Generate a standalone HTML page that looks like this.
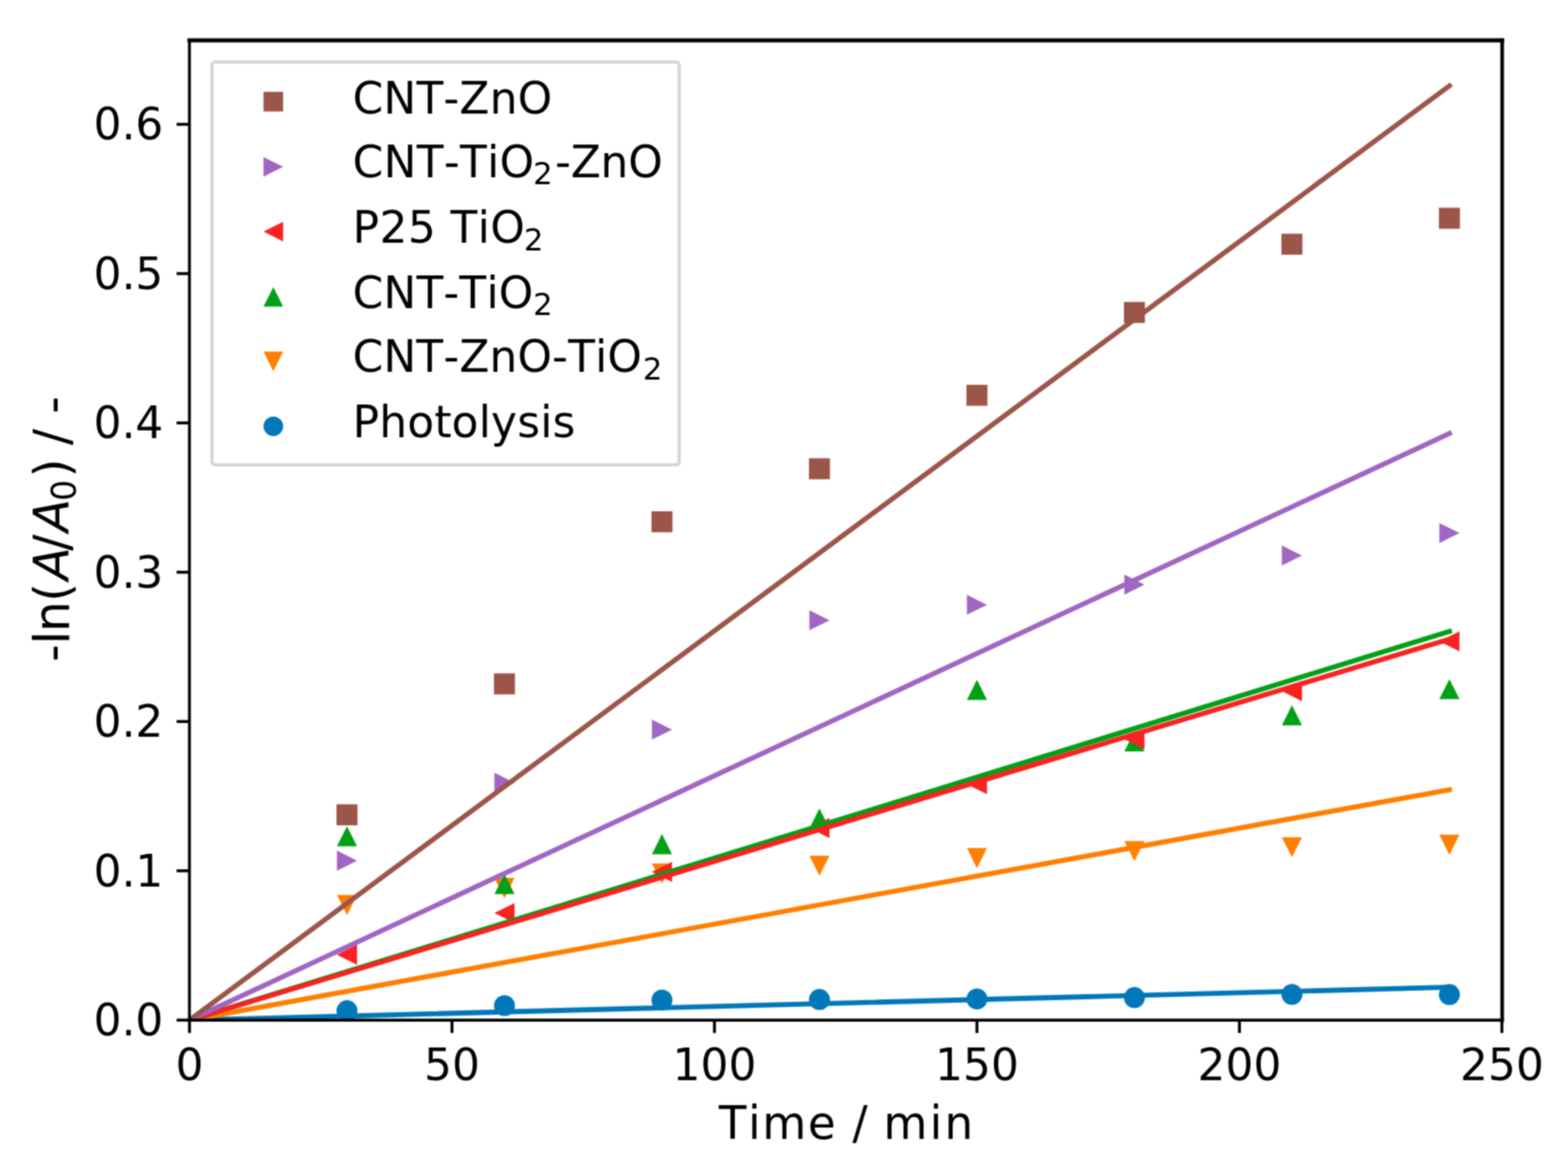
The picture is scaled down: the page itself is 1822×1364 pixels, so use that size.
<!DOCTYPE html>
<html><head><meta charset="utf-8"><title>Chart</title>
<style>html,body{margin:0;padding:0;background:#fff;width:1822px;height:1364px;overflow:hidden}</style>
</head><body>
<svg width="1822" height="1364" viewBox="0 0 1822 1364" style="display:block">
<rect width="1822" height="1364" fill="#fff"/>
<g filter="url(#soft)">
<rect width="1822" height="1364" fill="#fff"/>
<defs><filter id="soft" filterUnits="userSpaceOnUse" x="0" y="0" width="1822" height="1364" color-interpolation-filters="sRGB"><feConvolveMatrix order="3" kernelMatrix="1 2 1 2 4 2 1 2 1" edgeMode="duplicate"/></filter><clipPath id="ax"><rect x="220.2" y="47.5" width="1525.20" height="1137.70"/></clipPath></defs>
<g clip-path="url(#ax)">
<circle cx="403.20" cy="1174.27" r="12.20" fill="#0277b9"/>
<circle cx="586.20" cy="1168.37" r="12.20" fill="#0277b9"/>
<circle cx="769.20" cy="1161.96" r="12.20" fill="#0277b9"/>
<circle cx="952.20" cy="1161.26" r="12.20" fill="#0277b9"/>
<circle cx="1135.20" cy="1160.74" r="12.20" fill="#0277b9"/>
<circle cx="1318.20" cy="1159.01" r="12.20" fill="#0277b9"/>
<circle cx="1501.20" cy="1155.36" r="12.20" fill="#0277b9"/>
<circle cx="1684.20" cy="1155.54" r="12.20" fill="#0277b9"/>
<polygon points="403.20,1063.16 391.50,1039.76 414.90,1039.76" fill="#ff7f00"/>
<polygon points="586.20,1043.39 574.50,1019.99 597.90,1019.99" fill="#ff7f00"/>
<polygon points="769.20,1026.74 757.50,1003.34 780.90,1003.34" fill="#ff7f00"/>
<polygon points="952.20,1017.54 940.50,994.14 963.90,994.14" fill="#ff7f00"/>
<polygon points="1135.20,1008.70 1123.50,985.30 1146.90,985.30" fill="#ff7f00"/>
<polygon points="1318.20,1000.54 1306.50,977.14 1329.90,977.14" fill="#ff7f00"/>
<polygon points="1501.20,996.03 1489.50,972.63 1512.90,972.63" fill="#ff7f00"/>
<polygon points="1684.20,993.26 1672.50,969.86 1695.90,969.86" fill="#ff7f00"/>
<polygon points="403.20,959.97 391.50,983.37 414.90,983.37" fill="#02a016"/>
<polygon points="586.20,1015.30 574.50,1038.70 597.90,1038.70" fill="#02a016"/>
<polygon points="769.20,968.99 757.50,992.39 780.90,992.39" fill="#02a016"/>
<polygon points="952.20,939.16 940.50,962.56 963.90,962.56" fill="#02a016"/>
<polygon points="1135.20,789.81 1123.50,813.21 1146.90,813.21" fill="#02a016"/>
<polygon points="1318.20,849.65 1306.50,873.05 1329.90,873.05" fill="#02a016"/>
<polygon points="1501.20,819.29 1489.50,842.69 1512.90,842.69" fill="#02a016"/>
<polygon points="1684.20,788.94 1672.50,812.34 1695.90,812.34" fill="#02a016"/>
<polygon points="391.50,1109.22 414.90,1097.52 414.90,1120.92" fill="#f82222"/>
<polygon points="574.50,1060.83 597.90,1049.13 597.90,1072.53" fill="#f82222"/>
<polygon points="757.50,1012.95 780.90,1001.25 780.90,1024.65" fill="#f82222"/>
<polygon points="940.50,961.96 963.90,950.26 963.90,973.66" fill="#f82222"/>
<polygon points="1123.50,911.13 1146.90,899.43 1146.90,922.83" fill="#f82222"/>
<polygon points="1306.50,858.75 1329.90,847.05 1329.90,870.45" fill="#f82222"/>
<polygon points="1489.50,803.07 1512.90,791.37 1512.90,814.77" fill="#f82222"/>
<polygon points="1672.50,745.13 1695.90,733.43 1695.90,756.83" fill="#f82222"/>
<polygon points="414.90,999.94 391.50,988.24 391.50,1011.64" fill="#a066c2"/>
<polygon points="597.90,909.57 574.50,897.87 574.50,921.27" fill="#a066c2"/>
<polygon points="780.90,847.65 757.50,835.95 757.50,859.35" fill="#a066c2"/>
<polygon points="963.90,720.67 940.50,708.97 940.50,732.37" fill="#a066c2"/>
<polygon points="1146.90,702.63 1123.50,690.93 1123.50,714.33" fill="#a066c2"/>
<polygon points="1329.90,679.22 1306.50,667.52 1306.50,690.92" fill="#a066c2"/>
<polygon points="1512.90,645.39 1489.50,633.69 1489.50,657.09" fill="#a066c2"/>
<polygon points="1695.90,619.37 1672.50,607.67 1672.50,631.07" fill="#a066c2"/>
<rect x="391.00" y="934.49" width="24.40" height="24.40" fill="#9c5549"/>
<rect x="574.00" y="782.37" width="24.40" height="24.40" fill="#9c5549"/>
<rect x="757.00" y="593.99" width="24.40" height="24.40" fill="#9c5549"/>
<rect x="940.00" y="532.41" width="24.40" height="24.40" fill="#9c5549"/>
<rect x="1123.00" y="447.07" width="24.40" height="24.40" fill="#9c5549"/>
<rect x="1306.00" y="350.80" width="24.40" height="24.40" fill="#9c5549"/>
<rect x="1489.00" y="271.53" width="24.40" height="24.40" fill="#9c5549"/>
<rect x="1672.00" y="241.35" width="24.40" height="24.40" fill="#9c5549"/>
<line x1="220.20" y1="1185.20" x2="1684.20" y2="1147.04" stroke="#0277b9" stroke-width="5.8" stroke-linecap="square"/>
<line x1="220.20" y1="1185.20" x2="1684.20" y2="917.55" stroke="#ff7f00" stroke-width="5.8" stroke-linecap="square"/>
<line x1="220.20" y1="1185.20" x2="1684.20" y2="733.51" stroke="#02a016" stroke-width="5.8" stroke-linecap="square"/>
<line x1="220.20" y1="1185.20" x2="1684.20" y2="742.53" stroke="#f82222" stroke-width="5.8" stroke-linecap="square"/>
<line x1="220.20" y1="1185.20" x2="1684.20" y2="503.68" stroke="#a066c2" stroke-width="5.8" stroke-linecap="square"/>
<line x1="220.20" y1="1185.20" x2="1684.20" y2="99.69" stroke="#9c5549" stroke-width="5.8" stroke-linecap="square"/>
</g>
<g stroke="#000" stroke-linecap="square">
<line x1="220.1" y1="46.9" x2="1745.5" y2="46.9" stroke-width="4.6"/>
<line x1="220.1" y1="1185.3" x2="1745.5" y2="1185.3" stroke-width="3.5"/>
<line x1="220.1" y1="46.9" x2="220.1" y2="1185.3" stroke-width="3.3"/>
<line x1="1745.5" y1="46.9" x2="1745.5" y2="1185.3" stroke-width="4.2"/>
</g>
<line x1="220.20" y1="1185.20" x2="220.20" y2="1200.20" stroke="#000" stroke-width="3.4"/>
<line x1="525.20" y1="1185.20" x2="525.20" y2="1200.20" stroke="#000" stroke-width="3.4"/>
<line x1="830.20" y1="1185.20" x2="830.20" y2="1200.20" stroke="#000" stroke-width="3.4"/>
<line x1="1135.20" y1="1185.20" x2="1135.20" y2="1200.20" stroke="#000" stroke-width="3.4"/>
<line x1="1440.20" y1="1185.20" x2="1440.20" y2="1200.20" stroke="#000" stroke-width="3.4"/>
<line x1="1745.20" y1="1185.20" x2="1745.20" y2="1200.20" stroke="#000" stroke-width="3.4"/>
<line x1="205.20" y1="1185.20" x2="220.20" y2="1185.20" stroke="#000" stroke-width="3.4"/>
<line x1="205.20" y1="1011.74" x2="220.20" y2="1011.74" stroke="#000" stroke-width="3.4"/>
<line x1="205.20" y1="838.28" x2="220.20" y2="838.28" stroke="#000" stroke-width="3.4"/>
<line x1="205.20" y1="664.82" x2="220.20" y2="664.82" stroke="#000" stroke-width="3.4"/>
<line x1="205.20" y1="491.36" x2="220.20" y2="491.36" stroke="#000" stroke-width="3.4"/>
<line x1="205.20" y1="317.90" x2="220.20" y2="317.90" stroke="#000" stroke-width="3.4"/>
<line x1="205.20" y1="144.44" x2="220.20" y2="144.44" stroke="#000" stroke-width="3.4"/>
<g font-family="'DejaVu Sans', 'Liberation Sans', sans-serif" fill="#000" style="font-kerning:none">
<text x="220.20" y="1255.0" font-size="51" text-anchor="middle">0</text>
<text x="525.20" y="1255.0" font-size="51" text-anchor="middle">50</text>
<text x="830.20" y="1255.0" font-size="51" text-anchor="middle">100</text>
<text x="1135.20" y="1255.0" font-size="51" text-anchor="middle">150</text>
<text x="1440.20" y="1255.0" font-size="51" text-anchor="middle">200</text>
<text x="1745.20" y="1255.0" font-size="51" text-anchor="middle">250</text>
<text x="189.8" y="1203.20" font-size="51" text-anchor="end">0.0</text>
<text x="189.8" y="1029.74" font-size="51" text-anchor="end">0.1</text>
<text x="189.8" y="856.28" font-size="51" text-anchor="end">0.2</text>
<text x="189.8" y="682.82" font-size="51" text-anchor="end">0.3</text>
<text x="189.8" y="509.36" font-size="51" text-anchor="end">0.4</text>
<text x="189.8" y="335.90" font-size="51" text-anchor="end">0.5</text>
<text x="189.8" y="162.44" font-size="51" text-anchor="end">0.6</text>
<text x="835.15 869.17 885.71 938.79" y="1323.40" font-size="52.5">Time</text>
<text x="990.60" y="1323.40" font-size="52.5">/</text>
<text x="1026.53 1080.24 1097.39" y="1323.40" font-size="52.5">min</text>
<g transform="translate(79.7,765.8) rotate(-90)">
<text x="-3.24" y="0.00" font-size="56.5">-</text>
<text x="16.94" y="0.00" font-size="56.5">l</text>
<text x="31.53" y="0.00" font-size="56.5">n</text>
<text x="66.46" y="0.00" font-size="56.5">(</text>
<text x="91.52" y="0.00" font-size="56.5" font-style="italic">A</text>
<text x="125.93" y="0.00" font-size="56.5">/</text>
<text x="147.47" y="0.00" font-size="56.5" font-style="italic">A</text>
<text x="183.71" y="7.80" font-size="38.5">0</text>
<text x="210.94" y="0.00" font-size="56.5">)</text>
<text x="248.68" y="0.00" font-size="56.5">/</text>
<text x="285.06" y="0.00" font-size="56.5">-</text>
</g>
</g>
<rect x="246.3" y="72.2" width="542.90" height="467.90" rx="3.5" ry="3.5" fill="#fff" fill-opacity="0.8" stroke="#d4d4d4" stroke-width="3.8"/>
<rect x="306.20" y="106.70" width="22.80" height="22.80" fill="#9c5549"/>
<polygon points="329.00,193.80 306.20,182.40 306.20,205.20" fill="#a066c2"/>
<polygon points="306.20,269.10 329.00,257.70 329.00,280.50" fill="#f82222"/>
<polygon points="317.60,333.50 306.20,356.30 329.00,356.30" fill="#02a016"/>
<polygon points="317.60,431.30 306.20,408.50 329.00,408.50" fill="#ff7f00"/>
<circle cx="317.60" cy="495.30" r="11.40" fill="#0277b9"/>
<g font-family="'DejaVu Sans', 'Liberation Sans', sans-serif" fill="#000" style="font-kerning:none">
<text x="409.74 445.55 483.90 515.25 533.86 569.00 601.52" y="131.70" font-size="51">CNT-ZnO</text>
<text x="409.74 445.72 484.25 515.77 534.55 566.08 580.62" y="205.50" font-size="51">CNT-TiO</text>
<text x="619.59" y="214.30" font-size="35.7">2</text>
<text x="645.01 663.16 697.85 729.92" y="205.50" font-size="51">-ZnO</text>
<text x="409.79 441.01 473.91 506.82 523.48 555.09 569.72" y="281.70" font-size="51">P25 TiO</text>
<text x="608.69" y="290.50" font-size="35.7">2</text>
<text x="409.74 445.54 483.88 515.22 533.82 565.16 579.52" y="357.60" font-size="51">CNT-TiO</text>
<text x="619.59" y="366.40" font-size="35.7">2</text>
<text x="409.74 445.51 483.82 515.14 533.71 568.81 601.30 641.60 660.17 691.49 705.82" y="431.90" font-size="51">CNT-ZnO-TiO</text>
<text x="746.99" y="440.70" font-size="35.7">2</text>
<text x="409.79 440.74 473.26 504.66 524.85 556.25 570.61 600.99 627.76 642.12" y="507.60" font-size="51">Photolysis</text>
</g>
</g>
</svg>
</body></html>
